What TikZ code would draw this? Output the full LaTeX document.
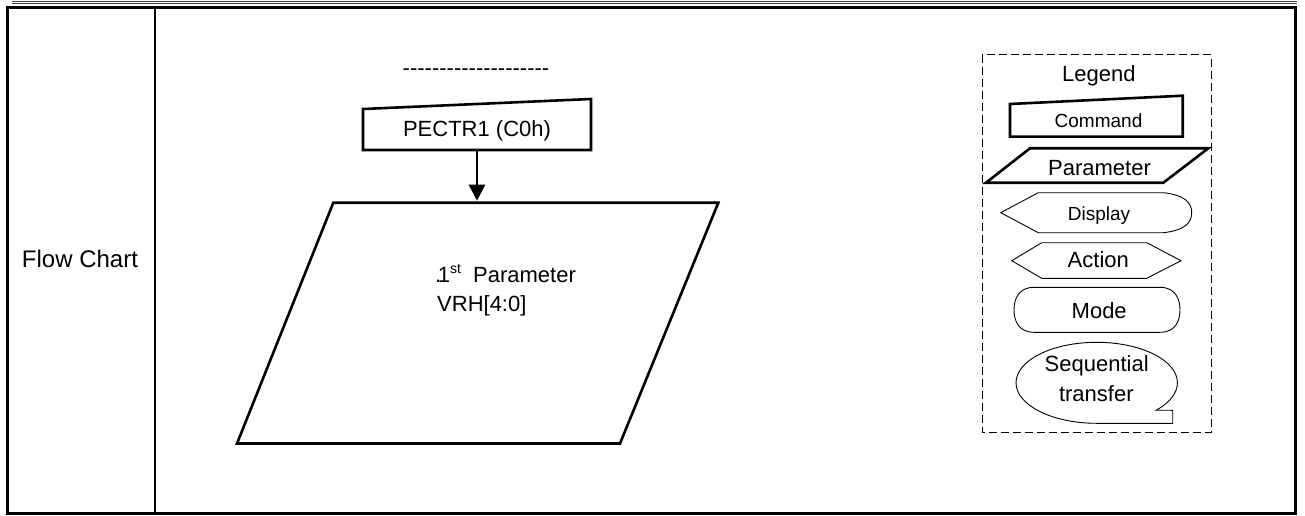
\documentclass[tikz,border=0pt]{standalone}
\usepackage{fontspec}
\setmainfont{Liberation Sans}
\usetikzlibrary{arrows.meta}
\newcommand\myhy{-\kern0pt}
\begin{document}
\begin{tikzpicture}[x=1pt,y=1pt,
  thickline/.style={line width=2.6pt, line join=miter},
  thinshape/.style={line width=0.9pt},
  lbl/.style={inner sep=0pt, anchor=base, font=\fontsize{22}{26}\selectfont},
  smalllbl/.style={lbl, font=\fontsize{19}{22}\selectfont}]
\useasboundingbox (0,0) rectangle (1305,515);
% top double rule and frame
\draw[black!75, line width=0.8pt] (12,513.8) -- (1297,513.8);
\draw[black!75, line width=0.8pt] (12,512) -- (1297,512);
\draw[line width=3pt] (7.5,507.5) rectangle (1295,2);
\draw[line width=2pt] (155,507.5) -- (155,2);
\node[lbl, font=\fontsize{24}{28}\selectfont] (fc) at (80,247.7) {Flow Chart};
% flow
\node[lbl] (dash) at (476,439) {\myhy\myhy\myhy\myhy\myhy\myhy\myhy\myhy\myhy\myhy\myhy\myhy\myhy\myhy\myhy\myhy\myhy\myhy\myhy\myhy};
\draw[thickline] (363,365) -- (591,365) -- (591,416) -- (363,406) -- cycle;
\node[lbl] (cmd) at (477,378.3) {PECTR1 (C0h)};
\draw[thickline] (333.3,312.3) -- (718.3,312.3) -- (620,71.5) -- (237,71.5) -- cycle;
\node[lbl, anchor=base west] (p1) at (435,233) {.\kern-3.5pt1\raisebox{8.5pt}{\fontsize{14}{14}\selectfont st}\ \ Parameter};
\node[lbl, anchor=base west] (p2) at (437,203.3) {VRH[4:0]};
\coordinate (cmdB) at (477,365);
\coordinate (parT) at (477,314.3);
\draw[line width=2.6pt, -{Triangle[width=16pt,length=16pt]}] (cmdB) -- (parT);
% legend
\draw[line width=1pt, dash pattern=on 8pt off 4pt] (982,460) rectangle (1211,82.7);
\node[lbl] (leg) at (1098.8,433.3) {Legend};
\draw[thickline] (1010,378.3) -- (1182.7,378.3) -- (1182.7,419.3) -- (1010,411) -- cycle;
\node[smalllbl] (lcmd) at (1098.5,387.7) {Command};
\draw[thickline] (1030,366.7) -- (1208.3,366.7) -- (1163.3,332.3) -- (986,332.3) -- cycle;
\node[lbl] (lpar) at (1099.5,340) {Parameter};
\draw[thinshape] (1000.7,302.3) -- (1038.3,322.3) -- (1163.3,322.3) .. controls (1185,320) and (1191.7,312) .. (1191.7,302.3) .. controls (1191.7,292.6) and (1185,284.6) .. (1163.3,282.3) -- (1038.3,282.3) -- cycle;
\node[smalllbl] (ldisp) at (1099,294.3) {Display};
\draw[thinshape] (1011.7,254.3) -- (1041.7,272.3) -- (1146.7,272.3) -- (1181,254.3) -- (1146.7,236.7) -- (1041.7,236.7) -- cycle;
\node[lbl] (lact) at (1098.3,247.7) {Action};
\draw[thinshape] (1034,227.7) -- (1160,227.7) .. controls (1176,227.7) and (1180,215) .. (1180,205.2) .. controls (1180,195) and (1176,182.7) .. (1160,182.7) -- (1034,182.7) .. controls (1018,182.7) and (1014,195) .. (1014,205.2) .. controls (1014,215) and (1018,227.7) .. (1034,227.7) -- cycle;
\node[lbl] (lmode) at (1099.2,196.7) {Mode};
\draw[thinshape] (1172.7,91.7) -- (1096.7,91.7) arc[start angle=270, end angle=-42.7, x radius=80.7pt, y radius=40.5pt] -- (1172.7,104.7) -- cycle;
\node[lbl] (lseq1) at (1096.7,144) {Sequential};
\node[lbl] (lseq2) at (1096.3,113.3) {transfer};
\end{tikzpicture}
\end{document}
